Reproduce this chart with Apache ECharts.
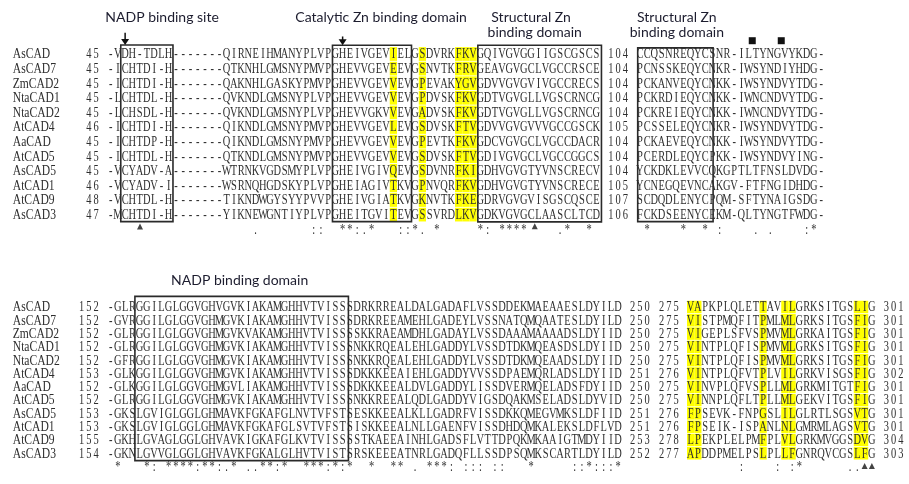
<!DOCTYPE html>
<html>
<head>
<meta charset="utf-8">
<script src="https://cdn.jsdelivr.net/npm/echarts@6/dist/echarts.min.js"></script>
<style>
html, body { margin: 0; background: #fff; }
#container { width: 909px; height: 484px; }
</style>
</head>
<body>
<div id="container"></div>
<script>
// sequence names (same order in both blocks)
var names = ['AsCAD', 'AsCAD7', 'ZmCAD2', 'NtaCAD1', 'NtaCAD2', 'AtCAD4', 'AaCAD', 'AtCAD5', 'AsCAD5', 'AtCAD1', 'AtCAD9', 'AsCAD3'];

// upper block
var topStart1 = [45, 45, 45, 45, 45, 46, 45, 45, 45, 46, 48, 47];
var topSeq1 = [
    '-VDH-TDLH-------QIRNEIHMANYPLVPGHEIVGEVIELGSDVRKFKVGQIVGVGGIIGSCGSCS',
    '-ICHTDI-H-------QTKNHLGMSNYPMVPGHEVVGEVEEVGSNVTKFRVGEAVGVGCLVGCCRSCE',
    '-ICHTDI-H-------QAKNHLGASKYPMVPGHEVVGEVVEVGPEVAKYGVGDVVGVGVIVGCCRECS',
    '-LCHTDL-H-------QVKNDLGMSNYPLVPGHEVVGEVVEVGPDVSKFKVGDTVGVGLLVGSCRNCG',
    '-LCHSDL-H-------QVKNDLGMSNYPLVPGHEVVGKVVEVGADVSKFKVGDTVGVGLLVGSCRNCG',
    '-ICHTDI-H-------QIKNDLGMSNYPMVPGHEVVGEVLEVGSDVSKFTVGDVVGVGVVVGCCGSCK',
    '-ICHTDP-H-------QIKNDLGMSNYPMVPGHEVVGEVVEVGPEVTKFKVGDCVGVGCLVGCCDACR',
    '-ICHTDL-H-------QTKNDLGMSNYPMVPGHEVVGEVVEVGSDVSKFTVGDIVGVGCLVGCCGGCS',
    '-VCYADV-A-------WTRNKVGDSMYPLVPGHEIVGIVQEVGSDVNRFKIGDHVGVGTYVNSCRECV',
    '-VCYADV-I-------WSRNQHGDSKYPLVPGHEIAGIVTKVGPNVQRFKVGDHVGVGTYVNSCRECE',
    '-VCHTDL-H-------TIKNDWGYSYYPVVPGHEIVGIATKVGKNVTKFKEGDRVGVGVISGSCQSCE',
    '-MCHTDI-H-------YIKNEWGNTIYPLVPGHEITGVITEVGSSVRDLKVGDKVGVGCLAASCLTCD'
];
var topStart2 = [104, 104, 104, 104, 104, 105, 104, 104, 104, 105, 107, 106];
var topSeq2 = [
    'CCQSNREQYCSNR-ILTYNGVYKDG-',
    'PCNSSKEQYCNKR-IWSYNDIYHDG-',
    'PCKANVEQYCNKK-IWSYNDVYTDG-',
    'PCKRDIEQYCNKK-IWNCNDVYTDG-',
    'PCKREIEQYCNKK-IWNCNDVYTDG-',
    'PCSSELEQYCNKR-IWSYNDVYTDG-',
    'PCKAEVEQYCNKK-IWSYNDVYTDG-',
    'PCERDLEQYCPKK-IWSYNDVYING-',
    'YCKDKLEVVCQKGPTLTFNSLDVDG-',
    'YCNEGQEVNCAKGV-FTFNGIDHDG-',
    'SCDQDLENYCPQM-SFTYNAIGSDG-',
    'FCKDSEENYCEKM-QLTYNGTFWDG-'
];
var topYellow1 = [39, 43, 48, 49, 50];
var topCons1 = [[20, '.'], [28, ':'], [29, ':'], [32, '*'], [33, '*'], [34, ':'], [35, '.'], [36, '*'],
    [40, ':'], [41, ':'], [42, '*'], [43, '.'], [45, '*'], [51, '*'], [52, ':'], [54, '*'], [55, '*'],
    [56, '*'], [57, '*'], [62, '.'], [63, '*'], [66, '*']];
var topCons2 = [[1, '*'], [6, '*'], [9, '*'], [11, ':'], [16, '.'], [18, '.'], [23, ':'], [24, '*']];

// lower block
var botStart1 = [152, 152, 152, 152, 152, 153, 152, 152, 153, 153, 155, 154];
var botSeq1 = [
    '-GLRGGILGLGGVGHVGVKIAKAMGHHVTVISSSDRKRREALDALGADAFLVSSDDEKMAEAAESLDYILD',
    '-GVRGGILGLGGVGHMGVKIAKAMGHHVTVISSSDRKREEAMEHLGADEYLVSSNATQMQAATESLDYILD',
    '-GLRGGILGLGGVGHMGVKVAKAMGHHVTVISSSSKKRAEAMDHLGADAYLVSSDAAAMAAAADSLDYIID',
    '-GLRGGILGLGGVGHMGVKIAKAMGHHVTVISSSNKKRQEALEHLGADDYLVSSDTDKMQEASDSLDYIID',
    '-GFRGGILGLGGVGHMGVKIAKAMGHHVTVISSSNKKRQEALEHLGADDYLVSSDTDKMQEAADSLDYIID',
    '-GLKGGILGLGGVGHMGVKIAKAMGHHVTVISSSDKKKEEAIEHLGADDYVVSSDPAEMQRLADSLDYIID',
    '-GLKGGILGLGGVGHMGVLIAKAMGHHVTVISSSDKKKEEALDVLGADDYLISSDVERMQELADSFDYIID',
    '-GLRGGILGLGGVGHMGVKIAKAMGHHVTVISSSNKKREEALQDLGADDYVIGSDQAKMSELADSLDYVID',
    '-GKSLGVIGLGGLGHMAVKFGKAFGLNVTVFSTSESKKEEALKLLGADRFVISSDKKQMEGVMKSLDFIID',
    '-GKSLGVIGLGGLGHMAVKFGKAFGLSVTVFSTSISKKEEALNLLGAENFVISSDHDQMKALEKSLDFLVD',
    '-GKHLGVAGLGGLGHVAVKIGKAFGLKVTVISSSSTKAEEAINHLGADSFLVTTDPQKMKAAIGTMDYIID',
    '-GKNLGVVGLGGLGHVAVKFGKALGLHVTVISTSRSKEEEATNRLGADQFLLSSDPSQMKSCARTLDYILD'
];
var botEnd1 = [250, 250, 250, 250, 250, 251, 250, 250, 251, 251, 253, 252];
var botStart2 = [275, 275, 275, 275, 275, 276, 275, 275, 276, 276, 278, 277];
var botSeq2 = [
    'VAPKPLQLETTAVILGRKSITGSLIG',
    'VISTPMQFITPMLMLGRKSITGSFIG',
    'VIGEPLSFVSPMVMLGRKAITGSFIG',
    'VINTPLQFISPMVMLGRKSITGSFIG',
    'VINTPLQFISPMVMLGRKSITGSFIG',
    'VINTPLQFVTPLVILGRKVISGSFIG',
    'VINVPLQFVSPLLMLGRKMITGTFIG',
    'VINNPLQFLTPLLMLGEKVITGSFIG',
    'FPSEVK-FNPGSLILGLRTLSGSVTG',
    'FPSEIK-ISPANLNLGMRMLAGSVTG',
    'LPEKPLELPMFPLVLGRKMVGGSDVG',
    'APDDPMELPSLPLLFGNRQVCGSLFG'
];
var botEnd2 = [301, 301, 301, 301, 301, 302, 301, 301, 301, 301, 304, 303];
var botYellow2 = [0, 1, 10, 13, 14, 23, 24];
var botCons1 = [[1, '*'], [5, '*'], [6, ':'], [8, '*'], [9, '*'], [10, '*'], [11, '*'], [12, ':'], [13, '*'],
    [14, '*'], [15, ':'], [16, '.'], [17, '*'], [19, '.'], [20, '.'], [21, '*'], [22, '*'], [23, ':'], [24, '*'],
    [27, '*'], [28, '*'], [29, '*'], [30, ':'], [31, '*'], [32, ':'], [33, '*'], [36, '*'], [39, '*'], [40, '*'],
    [42, '.'], [44, '*'], [45, '*'], [46, '*'], [47, ':'], [49, ':'], [50, ':'], [51, ':'], [53, ':'], [54, ':'],
    [58, '*'], [64, ':'], [65, ':'], [66, '*'], [67, ':'], [68, ':'], [69, ':'], [70, '*']];
var botCons2 = [[7, ':'], [12, ':'], [14, ':'], [15, '*'], [22, '.'], [23, '.']];

// layout: one text column = CW px, column 0 starts at X0
var CW = 7.25, X0 = 107, W = 909, H = 484, SPLIT = 258;
var TOP = { y0: 54, rh: 14.6 }, BOT = { y0: 307, rh: 13.3 };
var SEQ_FONT = '14.5px "Liberation Serif"';
var TITLE_FONT = '14px Lato';
var INK = '#2e2e2e';

function put(list, str, col, row) {
    for (var k = 0; k < str.length; k++) {
        if (str[k] !== ' ') list.push({ k: 'ch', x: col + k, y: row, t: str[k] });
    }
}

// upper block items
var topText = [], topBack = [], topFront = [];
names.forEach(function (n, i) {
    topText.push({ k: 'name', x: -13, y: i, t: n });
    put(topText, String(topStart1[i]), -1 - String(topStart1[i]).length, i);
    put(topText, topSeq1[i], 0, i);
    put(topText, String(topStart2[i]), 72 - String(topStart2[i]).length, i);
    put(topText, topSeq2[i], 73, i);
    topYellow1.forEach(function (c) { topBack.push({ k: 'hl', x: c, y: i }); });
});
topCons1.forEach(function (d) { put(topText, d[1], d[0], 12); });
topCons2.forEach(function (d) { put(topText, d[1], 73 + d[0], 12); });
topFront.push(
    { k: 'box', x: 1.9, y: -0.62, x2: 9.1, y2: 11.48 },
    { k: 'box', x: 31.1, y: -0.6, x2: 42.0, y2: 11.48 },
    { k: 'box', x: 51.15, y: -0.6, x2: 68.2, y2: 11.5 },
    { k: 'box', x: 73.2, y: -0.42, x2: 83.6, y2: 11.48 },
    { k: 'arrow', x: 2.5, y: -1.45, y2: -0.62 },
    { k: 'arrow', x: 32.5, y: -1.2, y2: -0.6 },
    { k: 'sq', x: 89.0, y: -0.91 },
    { k: 'sq', x: 93.0, y: -0.91 },
    { k: 'tri', x: 4.55, y: 11.85 },
    { k: 'tri', x: 59.0, y: 11.83 },
    { k: 'title', x: 7.6, y: -2.53, t: 'NADP binding site' },
    { k: 'title', x: 37.8, y: -2.53, t: 'Catalytic Zn binding domain' },
    { k: 'title', x: 58.5, y: -2.53, t: 'Structural Zn' },
    { k: 'title', x: 59.0, y: -1.44, t: 'binding domain' },
    { k: 'title', x: 78.6, y: -2.53, t: 'Structural Zn' },
    { k: 'title', x: 78.6, y: -1.44, t: 'binding domain' }
);

// lower block items
var botText = [], botBack = [], botFront = [];
names.forEach(function (n, i) {
    botText.push({ k: 'name', x: -13, y: i, t: n });
    put(botText, String(botStart1[i]), -1 - String(botStart1[i]).length, i);
    put(botText, botSeq1[i], 0, i);
    put(botText, String(botEnd1[i]), 72, i);
    put(botText, String(botStart2[i]), 76, i);
    put(botText, botSeq2[i], 80, i);
    put(botText, String(botEnd2[i]), 107, i);
    botYellow2.forEach(function (c) { botBack.push({ k: 'hl', x: 80 + c, y: i }); });
});
botCons1.forEach(function (d) { put(botText, d[1], d[0], 12); });
botCons2.forEach(function (d) { put(botText, d[1], 80 + d[0], 12); });
botFront.push(
    { k: 'box', x: 3.85, y: -0.8, x2: 33.3, y2: 11.55 },
    { k: 'tri', x: 104.5, y: 12 },
    { k: 'tri', x: 105.5, y: 12 },
    { k: 'title', x: 18.3, y: -2.0, t: 'NADP binding domain' }
);

function draw(it, api) {
    var s = api.size([1, 1]);
    var p, a, b;
    if (it.k === 'ch') {
        p = api.coord([it.x + 0.5, it.y]);
        return {
            type: 'text', x: p[0], y: p[1] + 0.5, scaleX: 0.72,
            style: { text: it.t, fill: INK, font: SEQ_FONT, align: 'center', verticalAlign: 'middle' }
        };
    }
    if (it.k === 'name') {
        p = api.coord([it.x, it.y]);
        return {
            type: 'text', x: p[0], y: p[1] + 0.5, scaleX: 0.8,
            style: { text: it.t, fill: INK, font: SEQ_FONT, align: 'left', verticalAlign: 'middle' }
        };
    }
    if (it.k === 'hl') {
        p = api.coord([it.x, it.y]);
        return {
            type: 'rect', shape: { x: p[0], y: p[1] - s[1] * 0.47, width: s[0], height: s[1] * 0.94 },
            style: { fill: '#ffff00' }
        };
    }
    if (it.k === 'box') {
        a = api.coord([it.x, it.y]);
        b = api.coord([it.x2, it.y2]);
        return {
            type: 'rect', shape: { x: a[0], y: a[1], width: b[0] - a[0], height: b[1] - a[1] },
            style: { fill: 'none', stroke: '#2a2a2a', lineWidth: 1.6 }
        };
    }
    if (it.k === 'arrow') {
        a = api.coord([it.x, it.y]);
        b = api.coord([it.x, it.y2]);
        return {
            type: 'group', children: [
                { type: 'line', shape: { x1: a[0], y1: a[1], x2: b[0], y2: b[1] - 4 }, style: { stroke: '#111', lineWidth: 1.5 } },
                { type: 'polygon', shape: { points: [[b[0] - 4, b[1] - 6], [b[0] + 4, b[1] - 6], [b[0], b[1]]] }, style: { fill: '#111' } }
            ]
        };
    }
    if (it.k === 'sq') {
        p = api.coord([it.x, it.y]);
        return { type: 'rect', shape: { x: p[0] - 3.5, y: p[1] - 3.5, width: 7, height: 7 }, style: { fill: '#111' } };
    }
    if (it.k === 'tri') {
        p = api.coord([it.x, it.y]);
        return {
            type: 'polygon', shape: { points: [[p[0] - 3, p[1] + 2.5], [p[0] + 3, p[1] + 2.5], [p[0], p[1] - 3.5]] },
            style: { fill: '#444' }
        };
    }
    p = api.coord([it.x, it.y]);
    return {
        type: 'text', x: p[0], y: p[1],
        style: { text: it.t, fill: '#1c1c2e', font: TITLE_FONT, align: 'center', verticalAlign: 'middle' }
    };
}

function layer(gi, items, z) {
    return {
        type: 'custom', xAxisIndex: gi, yAxisIndex: gi, z: z, silent: true, clip: false,
        data: items.map(function (it) { return [it.x, it.y]; }),
        renderItem: function (params, api) { return draw(items[params.dataIndex], api); }
    };
}

var dom = document.getElementById('container');
var myChart = echarts.init(dom);

var option = {
    animation: false,
    backgroundColor: '#fff',
    grid: [
        { left: 0, right: 0, top: 0, height: SPLIT },
        { left: 0, right: 0, top: SPLIT, height: H - SPLIT }
    ],
    xAxis: [
        { type: 'value', gridIndex: 0, min: -X0 / CW, max: (W - X0) / CW, show: false },
        { type: 'value', gridIndex: 1, min: -X0 / CW, max: (W - X0) / CW, show: false }
    ],
    yAxis: [
        { type: 'value', gridIndex: 0, inverse: true, min: -TOP.y0 / TOP.rh, max: (SPLIT - TOP.y0) / TOP.rh, show: false },
        { type: 'value', gridIndex: 1, inverse: true, min: (SPLIT - BOT.y0) / BOT.rh, max: (H - BOT.y0) / BOT.rh, show: false }
    ],
    series: [
        layer(0, topBack, 1), layer(0, topText, 2), layer(0, topFront, 3),
        layer(1, botBack, 1), layer(1, botText, 2), layer(1, botFront, 3)
    ]
};

myChart.setOption(option);
window.addEventListener('resize', myChart.resize);
</script>
</body>
</html>
